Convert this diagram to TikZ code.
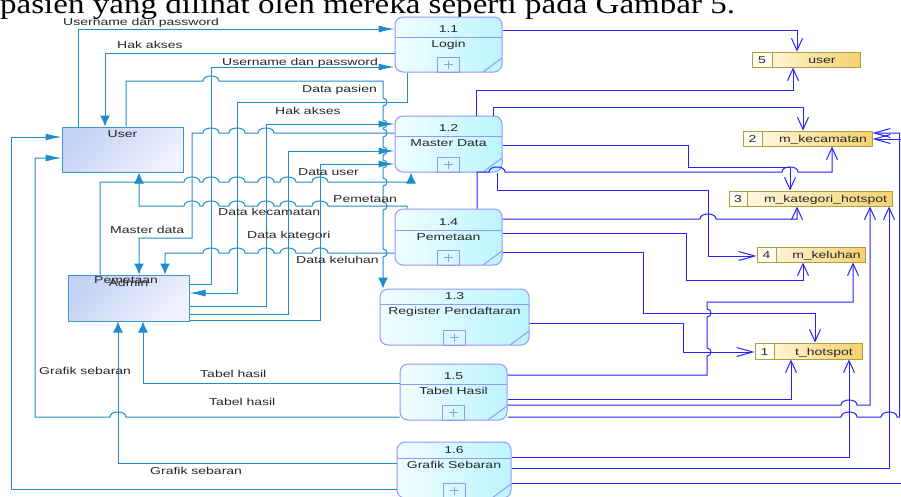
\documentclass[tikz,border=0pt]{standalone}
\usepackage{fontspec}
\setmainfont{Liberation Sans}
\newfontfamily\lblfam[FakeStretch=1.4]{Liberation Sans}
\newfontfamily\topfam[FakeStretch=1.18]{Liberation Serif}
\usetikzlibrary{arrows.meta}
\definecolor{cL}{RGB}{30,140,205}
\definecolor{cR}{RGB}{35,35,250}
\definecolor{procB}{RGB}{150,150,255}
\definecolor{procL}{RGB}{240,253,255}
\definecolor{procR}{RGB}{188,245,255}
\definecolor{entB}{RGB}{60,150,210}
\definecolor{entL}{RGB}{196,210,245}
\definecolor{entR}{RGB}{240,242,255}
\definecolor{stB}{RGB}{170,160,60}
\definecolor{stL}{RGB}{255,250,236}
\definecolor{stR}{RGB}{245,210,110}
\definecolor{numfill}{RGB}{255,253,242}
\tikzset{
 flowL/.style={draw=cL, line width=1pt},
 flowR/.style={draw=cR, line width=1pt},
 aLh/.style={-{Latex[length=16pt,width=7pt]}},
 aLv/.style={-{Latex[length=11pt,width=10pt]}},
 aRh/.style={-{Straight Barb[length=16pt,width=9pt]}},
 aRv/.style={-{Straight Barb[length=12pt,width=11pt]}},
 hbR/.style 2 args={insert path={-- ({#1-8},#2) .. controls ({#1-8},{#2-6.7}) and ({#1+8},{#2-6.7}) .. ({#1+8},#2)}},
 hbL/.style 2 args={insert path={-- ({#1+8},#2) .. controls ({#1+8},{#2-6.7}) and ({#1-8},{#2-6.7}) .. ({#1-8},#2)}},
 vbD/.style 2 args={insert path={-- (#1,{#2-4}) .. controls ({#1+5.3},{#2-4}) and ({#1+5.3},{#2+4}) .. (#1,{#2+4})}},
 vbU/.style 2 args={insert path={-- (#1,{#2+4}) .. controls ({#1+5.3},{#2+4}) and ({#1+5.3},{#2-4}) .. (#1,{#2-4})}},
 lbl/.style={font=\lblfam\fontsize{10}{12}\selectfont, anchor=base west, inner sep=0pt, text=black!85},
 ctext/.style={font=\lblfam\fontsize{10}{12}\selectfont, anchor=base, inner sep=0pt, text=black!85},
 procnode/.style={rectangle, rounded corners=8pt, draw=procB, line width=1pt, left color=procL, right color=procR, inner sep=0pt},
 procline/.style={draw=procB, line width=1pt},
 entnode/.style={rectangle, draw=entB, line width=1pt, top color=entL, bottom color=entR, shading angle=45, inner sep=0pt},
 storenode/.style={rectangle, draw=stB, line width=1pt, left color=stL, right color=stR, inner sep=0pt},
 storeline/.style={draw=stB, line width=1pt},
}
\newcommand\procbox[8]{%
 \pgfmathsetmacro\pcx{(#2+#4)/2}\pgfmathsetmacro\pcy{(#3+#5)/2}%
 \pgfmathsetmacro\pww{#4-#2}\pgfmathsetmacro\phh{#5-#3}%
 \node[procnode, minimum width=\pww pt, minimum height=\phh pt] (#1) at (\pcx,\pcy) {};
 \draw[procline] (#2,#6) -- (#4,#6);
 \draw[procline] ({\pcx-11},#5) rectangle ({\pcx+11},{#5-15});
 \draw[procline] ({\pcx-4.5},{#5-7.5}) -- ({\pcx+4.5},{#5-7.5}) (\pcx,{#5-11.5}) -- (\pcx,{#5-3.5});
 \draw[procline] (#4,{#5-14}) -- ({#4-19},#5);
 \node[ctext] at (\pcx,{#6-4.5}) {#7};
 \node[ctext] at (\pcx,{#6+10.5}) {#8};
}
\newcommand\storebox[8]{%
 \pgfmathsetmacro\scx{(#2+#4)/2}\pgfmathsetmacro\scy{(#3+#5)/2}%
 \pgfmathsetmacro\sww{#4-#2}\pgfmathsetmacro\shh{#5-#3}%
 \node[storenode, minimum width=\sww pt, minimum height=\shh pt] (#1) at (\scx,\scy) {};
 \draw[storeline, fill=numfill] (#2,#3) rectangle (#6,#5);
 \node[ctext] at ({(#2+#6)/2},{#5-4}) {#7};
 \node[ctext] at ({(#6+#4)/2+6},{#5-4}) {#8};
}
\begin{document}
\begin{tikzpicture}[x=1pt,y=-1pt]
\useasboundingbox (0,0) rectangle (901,496);
\fill[white] (0,0) rectangle (901,496);
\node[anchor=base west, inner sep=0pt, font=\topfam\fontsize{28}{32}\selectfont] (toptext) at (0,13) {pasien yang dilihat oleh mereka seperti pada Gambar 5.};

% processes
\procbox{p11}{395}{17}{502}{72}{37}{1.1}{Login}
\procbox{p12}{395}{116}{502}{172}{136}{1.2}{Master Data}
\procbox{p14}{395}{209}{502}{265}{230}{1.4}{Pemetaan}
\procbox{p13}{380}{289}{529}{345}{304}{1.3}{Register Pendaftaran}
\procbox{p15}{400}{364}{507}{420}{384}{1.5}{Tabel Hasil}
\procbox{p16}{397}{442}{511}{498}{458}{1.6}{Grafik Sebaran}

% entities
\node[entnode, minimum width=121pt, minimum height=45pt] (eu) at (122.5,149.5) {};
\node[ctext] at (122.5,137.5) {User};
\node[entnode, minimum width=121pt, minimum height=46pt] (ea) at (128.5,298) {};
\node[ctext] at (128.5,286) {Admin};

% stores
\storebox{s5}{752}{52}{860}{67}{772}{5}{user}
\storebox{s2}{743}{131}{872}{146}{762}{2}{m\_kecamatan}
\storebox{s3}{729}{191}{892}{206}{747}{3}{m\_kategori\_hotspot}
\storebox{s4}{757}{247}{865}{262}{776}{4}{m\_keluhan}
\storebox{s1}{755}{343}{862}{359}{774}{1}{t\_hotspot}

% left flows
\draw[flowL,aLh] (eu.north -| 78,0) -- (78,29) -- (p11.west |- 0,29);
\draw[flowL,aLv] (p11.west |- 0,53) -- (105,53) -- (eu.north -| 105,0);
\draw[flowL,aLh] (ea.east |- 0,284) -- (211,284) -- (211,67) -- (p11.west |- 0,67);
\draw[flowL,aLv] (eu.north -| 126,0) -- (126,81) [hbR={211}{81}] -- (383,81) [vbD={383}{102}] [vbD={383}{124}] [vbD={383}{133}] [vbD={383}{151}] [vbD={383}{164}] [vbD={383}{182}] [vbD={383}{206}] [vbD={383}{253}] -- (p13.north -| 383,0);
\draw[flowL,aLh] (p11.south -| 407,0) -- (407,102) -- (237,102) -- (237,293) -- (ea.east |- 0,293);
\draw[flowL,aLh] (ea.east |- 0,306) -- (266,306) -- (266,124) -- (p12.west |- 0,124);
\draw[flowL,aLv] (p12.west |- 0,133) [hbL={266}{133}] [hbL={237}{133}] [hbL={211}{133}] -- (192,133) -- (192,238) -- (139,238) -- (ea.north -| 139,0);
\draw[flowL,aLh] (ea.east |- 0,314) -- (288,314) -- (288,151) -- (p12.west |- 0,151);
\draw[flowL,aLh] (ea.east |- 0,320) -- (320,320) -- (320,164) -- (p12.west |- 0,164);
\draw[flowL,aLv] (ea.north -| 100,0) -- (100,182) [hbR={192}{182}] [hbR={211}{182}] [hbR={237}{182}] [hbR={266}{182}] [hbR={288}{182}] [hbR={320}{182}] -- (411,182) -- (p12.south -| 411,0);
\draw[flowL,aLv] (p14.north -| 407,0) -- (407,206) [hbL={320}{206}] [hbL={288}{206}] [hbL={266}{206}] [hbL={237}{206}] [hbL={211}{206}] [hbL={192}{206}] -- (139,206) -- (eu.south -| 139,0);
\draw[flowL,aLv] (p14.west |- 0,253) [hbL={320}{253}] [hbL={288}{253}] [hbL={266}{253}] [hbL={237}{253}] [hbL={211}{253}] -- (165,253) -- (ea.north -| 165,0);
\draw[flowL,aLv] (p15.west |- 0,383) -- (143,383) -- (ea.south -| 143,0);
\draw[flowL,aLh] (p15.west |- 0,417) [hbL={118}{417}] -- (35,417) -- (35,158) -- (eu.west |- 0,158);
\draw[flowL,aLv] (p16.west |- 0,463) -- (118,463) -- (ea.south -| 118,0);
\draw[flowL,aLh] (p16.west |- 0,489) -- (11,489) -- (11,137) -- (eu.west |- 0,137);

% right flows
\draw[flowR,aRv] (p11.east |- 0,30) -- (797,30) -- (s5.north -| 797,0);
\draw[flowR,aRv] (p12.north -| 476,0) -- (476,90) -- (793,90) -- (s5.south -| 793,0);
\draw[flowR,aRv] (p12.north -| 493,0) -- (493,107) -- (803,107) -- (s2.north -| 803,0);
\draw[flowR,aRv] (p12.east |- 0,145) -- (688,145) -- (688,167) -- (790,167) -- (s3.north -| 790,0);
\draw[flowR,aRv] (p14.north -| 477,0) -- (477,172) [hbR={497}{172}] [hbR={790}{172}] -- (832,172) -- (s2.south -| 832,0);
\draw[flowR,aRh] (p12.south -| 497,0) -- (497,190) -- (708,190) -- (708,256) -- (s4.west |- 0,256);
\draw[flowR,aRv] (p14.east |- 0,219) [hbR={708}{219}] -- (797,219) -- (s3.south -| 797,0);
\draw[flowR,aRv] (p14.east |- 0,233) -- (686,233) -- (686,280) -- (803,280) -- (s4.south -| 803,0);
\draw[flowR,aRv] (p14.east |- 0,252) -- (643,252) -- (643,313) -- (815,313) -- (s1.north -| 815,0);
\draw[flowR,aRh] (p13.east |- 0,323) -- (683,323) -- (683,352) -- (s1.west |- 0,352);
\draw[flowR,aRv] (p15.east |- 0,375) -- (707,375) [vbU={707}{352}] [vbU={707}{313}] -- (707,302) -- (853,302) -- (s4.south -| 853,0);
\draw[flowR,aRv] (p15.east |- 0,399) -- (791,399) -- (s1.south -| 791,0);
\draw[flowR,aRv] (p15.east |- 0,405) [hbR={849}{405}] -- (870,405) -- (s3.south -| 870,0);
\draw[flowR,aRh] (p15.east |- 0,417) [hbR={849}{417}] [hbR={889}{417}] -- (899.5,417) -- (899.5,133) -- (s2.east |- 0,133);
\draw[flowR,aRv] (p16.east |- 0,457) -- (849,457) -- (s1.south -| 849,0);
\draw[flowR,aRv] (p16.east |- 0,468) -- (889,468) -- (s3.south -| 889,0);
\draw[flowR,aRh] (p16.east |- 0,483) -- (903,483) -- (903,139) -- (s2.east |- 0,139);

% flow labels
\node[lbl] at (63,25.5) {Username dan password};
\node[lbl] at (117,48) {Hak akses};
\node[lbl] at (222,65.5) {Username dan password};
\node[lbl] at (302,92.2) {Data pasien};
\node[lbl] at (275,114) {Hak akses};
\node[lbl] at (298,175.5) {Data user};
\node[lbl] at (333,202.2) {Pemetaan};
\node[lbl] at (218,215.5) {Data kecamatan};
\node[lbl] at (110,233) {Master data};
\node[lbl] at (247,238) {Data kategori};
\node[lbl] at (296,263.2) {Data keluhan};
\node[lbl] at (94,283.2) {Pemetaan};
\node[lbl] at (39,374) {Grafik sebaran};
\node[lbl] at (200,377.2) {Tabel hasil};
\node[lbl] at (209,405.5) {Tabel hasil};
\node[lbl] at (150,474) {Grafik sebaran};
\end{tikzpicture}
\end{document}
